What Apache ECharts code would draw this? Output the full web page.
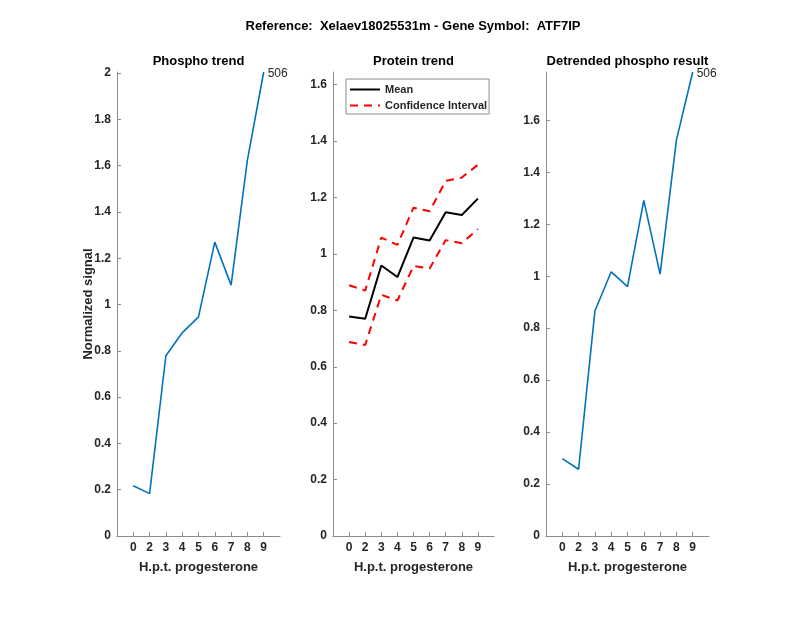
<!DOCTYPE html>
<html>
<head>
<meta charset="utf-8">
<script src="https://cdn.jsdelivr.net/npm/echarts@6/dist/echarts.min.js"></script>
<style>html,body{margin:0;padding:0;background:#fff;}#c{width:800px;height:618px;}</style>
</head>
<body>
<div id="c"></div>
<script>
// ---- data ----
var xLabels = ['0','2','3','4','5','6','7','8','9'];
var xPos = [1,2,3,4,5,6,7,8,9];
var phospho = [0.217,0.183,0.779,0.878,0.947,1.270,1.084,1.624,2.005];
var proteinMean = [0.778,0.770,0.959,0.918,1.058,1.048,1.148,1.138,1.196];
var proteinUpper = [0.889,0.870,1.058,1.032,1.164,1.151,1.259,1.271,1.316];
var proteinLower = [0.688,0.677,0.855,0.835,0.957,0.948,1.049,1.038,1.088];
var detrended = [0.298,0.257,0.866,1.017,0.960,1.292,1.008,1.524,1.786];
var yTicks1 = [0,0.2,0.4,0.6,0.8,1,1.2,1.4,1.6,1.8,2];
var yTicks2 = [0,0.2,0.4,0.6,0.8,1,1.2,1.4,1.6];
var yTicks3 = [0,0.2,0.4,0.6,0.8,1,1.2,1.4,1.6];
var yMax = [2.005, 1.645, 1.786];
var peptideLabel = '506';
var mainTitle = 'Reference:  Xelaev18025531m - Gene Symbol:  ATF7IP';
var subTitles = ['Phospho trend','Protein trend','Detrended phospho result'];

// ---- chart ----
var FONT = '"Liberation Sans", Arial, Helvetica, sans-serif';
var AXIS = '#8c8c8c';
var TXT = '#262626';
var grids = [
  {left:117, top:72, width:163, height:464},
  {left:333, top:72, width:161, height:464},
  {left:546, top:72, width:163, height:464}
];
function pairs(vals, labelLast){
  return vals.map(function(v,i){
    var d = {value:[xPos[i], v]};
    if (labelLast && i === vals.length-1) {
      d.label = {show:true, position:'right', distance:4, offset:[0,2], formatter:peptideLabel,
        color:TXT, fontFamily:FONT, fontSize:12, fontWeight:'normal'};
    }
    return d;
  });
}
function fmt(v){ return String(Math.round(v*10)/10); }
var xAxes = grids.map(function(g,i){
  return {
    type:'value', gridIndex:i, min:0, max:10,
    name:'H.p.t. progesterone', nameLocation:'middle', nameGap:25,
    nameTextStyle:{color:TXT, fontFamily:FONT, fontSize:13, fontWeight:'bold'},
    axisLine:{show:true, lineStyle:{color:AXIS, width:1}},
    axisTick:{show:true, inside:true, length:4, customValues:xPos, lineStyle:{color:AXIS}},
    axisLabel:{show:true, customValues:xPos, margin:6, color:TXT, fontFamily:FONT, fontSize:12, fontWeight:'bold',
      formatter:function(v){ return xLabels[Math.round(v)-1]; }},
    splitLine:{show:false}
  };
});
var tickSets = [yTicks1, yTicks2, yTicks3];
var yAxes = grids.map(function(g,i){
  var ax = {
    type:'value', gridIndex:i, min:0, max:yMax[i],
    axisLine:{show:true, lineStyle:{color:AXIS, width:1}},
    axisTick:{show:true, inside:true, length:4, customValues:tickSets[i], lineStyle:{color:AXIS}},
    axisLabel:{show:true, customValues:tickSets[i], margin:6, color:TXT, fontFamily:FONT, fontSize:12, fontWeight:'bold',
      formatter:fmt},
    splitLine:{show:false}
  };
  if (i === 0) {
    ax.name = 'Normalized signal'; ax.nameLocation = 'middle'; ax.nameGap = 22;
    ax.nameMoveOverlap = false;
    ax.nameTextStyle = {color:TXT, fontFamily:FONT, fontSize:13, fontWeight:'bold'};
  }
  return ax;
});
var titles = [{text:mainTitle, left:413, top:20, textAlign:'center', padding:0,
  textStyle:{color:'#000', fontFamily:FONT, fontSize:13, fontWeight:'bold'}}];
grids.forEach(function(g,i){
  titles.push({text:subTitles[i], left:g.left + g.width/2, top:55, textAlign:'center', padding:0,
    textStyle:{color:'#000', fontFamily:FONT, fontSize:13, fontWeight:'bold'}});
});
var blue = '#0072BD';
var option = {
  animation:false,
  backgroundColor:'#fff',
  title:titles,
  grid:grids,
  xAxis:xAxes,
  yAxis:yAxes,
  legend:{
    show:true, orient:'vertical', left:346, top:79,
    data:['Mean','Confidence Interval'],
    itemWidth:30, itemHeight:10, itemGap:5,
    padding:[5,2,3,3],
    itemStyle:{opacity:0},
    borderColor:'#8c8c8c', borderWidth:1, backgroundColor:'#fff',
    textStyle:{color:TXT, fontFamily:FONT, fontSize:11, fontWeight:'bold'}
  },
  series:[
    {type:'line', name:'Phospho', xAxisIndex:0, yAxisIndex:0, data:pairs(phospho,true),
      symbol:'circle', symbolSize:0, lineStyle:{color:blue, width:1.6}, itemStyle:{color:blue}},
    {type:'line', name:'Mean', xAxisIndex:1, yAxisIndex:1, data:pairs(proteinMean,false),
      symbol:'none', lineStyle:{color:'#000', width:2}, itemStyle:{color:'#000'}},
    {type:'line', name:'Confidence Interval', xAxisIndex:1, yAxisIndex:1, data:pairs(proteinUpper,false),
      symbol:'none', lineStyle:{color:'#ff0000', width:2, type:[8,6]}, itemStyle:{color:'#ff0000'}},
    {type:'line', name:'Confidence Interval', xAxisIndex:1, yAxisIndex:1, data:pairs(proteinLower,false),
      symbol:'none', lineStyle:{color:'#ff0000', width:2, type:[8,6]}, itemStyle:{color:'#ff0000'}},
    {type:'line', name:'Detrended', xAxisIndex:2, yAxisIndex:2, data:pairs(detrended,true),
      symbol:'circle', symbolSize:0, lineStyle:{color:blue, width:1.6}, itemStyle:{color:blue}}
  ]
};
var chart = echarts.init(document.getElementById('c'), null, {renderer:'canvas'});
chart.setOption(option);
</script>
</body>
</html>
